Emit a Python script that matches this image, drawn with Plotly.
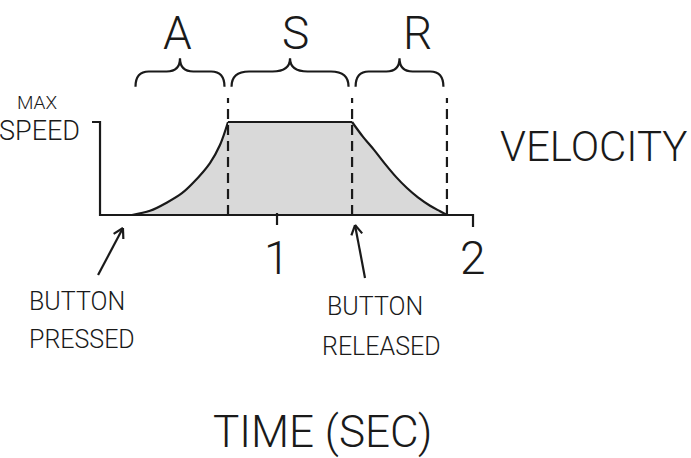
import numpy as np
import plotly.graph_objects as go

# envelope data (time in seconds, speed as fraction of max speed)
phase_bounds = [0.26, 0.75, 1.383, 1.867]
phase_labels = ["A", "S", "R"]
phase_label_t = [0.49, 1.092, 1.719]
attack_t = [0.26, 0.352, 0.439, 0.515, 0.571, 0.658, 0.709, 0.75]
attack_v = [0.0, 0.045, 0.135, 0.235, 0.344, 0.559, 0.753, 1.0]
release_t = [1.383, 1.439, 1.495, 1.551, 1.607, 1.663, 1.719, 1.781, 1.832, 1.867]
release_v = [1.0, 0.84, 0.70, 0.55, 0.41, 0.29, 0.19, 0.10, 0.04, 0.0]
max_speed = 1.0
axis_t = [0.097, 2.0]
tick_vals = [1, 2]
tick_labels = ["1", "2"]

W, H = 691, 458
xr = [-0.4133, 3.1122]
yr = [-2.613, 2.312]
sx = W / (xr[1] - xr[0])
sy = H / (yr[1] - yr[0])

INK = "#1a1a1a"
FILL = "#d9d9d9"
FONT = "Roboto, Lato, sans-serif"
LW = 2.2

fig = go.Figure()

# envelope: attack, sustain, release, each filled down to zero
segments = [
    (attack_t, attack_v, "spline"),
    ([attack_t[-1], release_t[0]], [max_speed, max_speed], "linear"),
    (release_t, release_v, "spline"),
]
for xs, ys, shp in segments:
    fig.add_trace(go.Scatter(x=xs, y=ys, mode="lines", fill="tozeroy", fillcolor=FILL,
                             line=dict(color=INK, width=LW, shape=shp), hoverinfo="skip"))

# axes drawn by hand
fig.add_trace(go.Scatter(
    x=[axis_t[0] - 8 / sx, axis_t[0], axis_t[0], axis_t[1], axis_t[1]],
    y=[max_speed, max_speed, 0, 0, -12 / sy],
    mode="lines", line=dict(color=INK, width=LW), hoverinfo="skip"))
fig.add_trace(go.Scatter(x=[tick_vals[0], tick_vals[0]], y=[2 / sy, -10 / sy],
                         mode="lines", line=dict(color=INK, width=LW), hoverinfo="skip"))

# phase boundaries
dash_top = 1.258
for b in phase_bounds[1:]:
    fig.add_trace(go.Scatter(x=[b, b], y=[0, dash_top], mode="lines",
                             line=dict(color=INK, width=LW, dash="10px,6px"), hoverinfo="skip"))


def brace_path(x0, x1, yb=1.38, ya=1.543, yt=1.685):
    w = x1 - x0
    xm = (x0 + x1) / 2
    return (f"M {x0},{yb} Q {x0},{ya} {x0 + w * 0.15},{ya} "
            f"L {xm - w * 0.15},{ya} Q {xm},{ya} {xm},{yt} "
            f"Q {xm},{ya} {xm + w * 0.15},{ya} "
            f"L {x1 - w * 0.15},{ya} Q {x1},{ya} {x1},{yb}")


gap = 0.018
for i, lab in enumerate(phase_labels):
    x0 = phase_bounds[i] + gap
    x1 = phase_bounds[i + 1] - gap
    fig.add_shape(type="path", path=brace_path(x0, x1), xref="x", yref="y",
                  line=dict(color=INK, width=LW))
    fig.add_annotation(x=phase_label_t[i], y=1.957, text=lab, showarrow=False,
                       font=dict(family=FONT, size=46, color=INK, weight=300))


def arrow(tail, head):
    dx = (head[0] - tail[0]) * sx
    dy = (head[1] - tail[1]) * sy
    ang = np.arctan2(dy, dx)
    xs = [tail[0], head[0], None]
    ys = [tail[1], head[1], None]
    for s in (1, -1):
        a = ang + np.pi - s * np.radians(30)
        xs += [head[0] + 11 * np.cos(a) / sx, head[0], None]
        ys += [head[1] + 11 * np.sin(a) / sy, head[1], None]
    fig.add_trace(go.Scatter(x=xs, y=ys, mode="lines", line=dict(color=INK, width=LW),
                             hoverinfo="skip"))


arrow((0.087, -0.645), (0.214, -0.14))
arrow((1.449, -0.677), (1.398, -0.108))


def label(x, y, text, size, xanchor="center"):
    fig.add_annotation(x=x, y=y, text=text, showarrow=False, xanchor=xanchor,
                       font=dict(family=FONT, size=size, color=INK, weight=300))


for v, lab in zip(tick_vals, tick_labels):
    label(v, -0.457, lab, 46)
label(-0.337, 1.215, "MAX", 19, "left")
label(0.005, 0.90, "SPEED", 27, "right")
label(2.617, 0.742, "VELOCITY", 42)
label(-0.276, -0.935, "BUTTON", 25, "left")
label(-0.276, -1.344, "PRESSED", 25, "left")
label(1.5, -0.989, "BUTTON", 25)
label(1.531, -1.409, "RELEASED", 25)
label(1.23, -2.33, "TIME (SEC)", 44)

fig.update_layout(width=W, height=H, margin=dict(l=0, r=0, t=0, b=0),
                  paper_bgcolor="white", plot_bgcolor="white", showlegend=False,
                  xaxis=dict(range=xr, visible=False, fixedrange=True),
                  yaxis=dict(range=yr, visible=False, fixedrange=True))
fig.write_html("out.html", config={"displayModeBar": False},
               post_script="document.body.style.margin = '0';")
